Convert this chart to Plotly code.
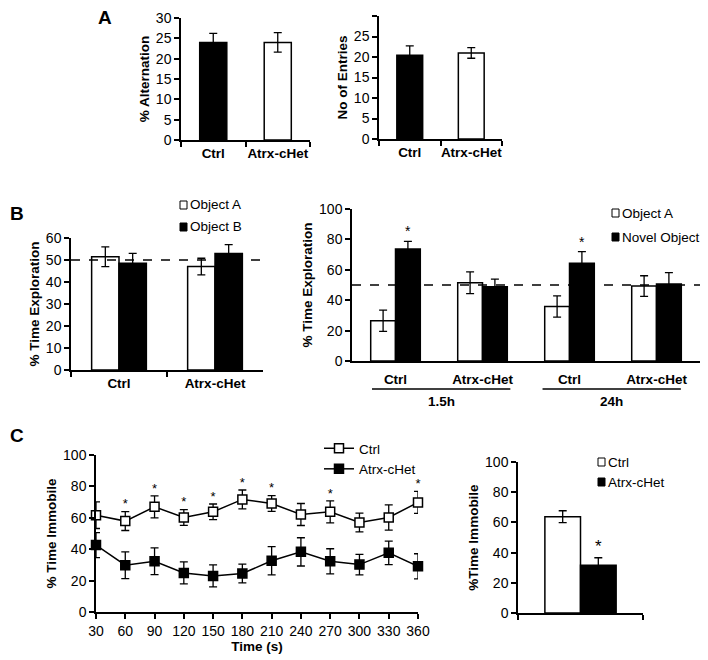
import plotly.graph_objects as go

# ---- data ----
GENOTYPES = ["Ctrl", "Atrx-cHet"]

# A: Y-maze
ALTERNATION = [24.0, 24.0]
ALTERNATION_SEM = [2.2, 2.4]
ENTRIES = [20.4, 21.0]
ENTRIES_SEM = [2.3, 1.3]

# B left: training (two identical objects)
TRAIN_OBJ_A = [51.5, 47.0]
TRAIN_OBJ_A_SEM = [4.5, 3.8]
TRAIN_OBJ_B = [48.5, 53.0]
TRAIN_OBJ_B_SEM = [4.5, 4.0]

# B right: novel object test at two delays
TEST_GENOTYPES = ["Ctrl", "Atrx-cHet", "Ctrl", "Atrx-cHet"]
TEST_DELAYS = ["1.5h", "24h"]
TEST_OBJ_A = [26.5, 51.5, 35.8, 49.3]
TEST_OBJ_A_SEM = [7.0, 7.2, 7.0, 6.8]
TEST_NOVEL = [73.7, 48.9, 64.3, 50.7]
TEST_NOVEL_SEM = [5.0, 5.0, 7.6, 7.5]
TEST_SIG = [True, False, True, False]

CHANCE = 50

# C: forced swim, immobility per 30 s bin
TIME_S = [30, 60, 90, 120, 150, 180, 210, 240, 270, 300, 330, 360]
CTRL_IMM = [61.7, 57.9, 67.0, 60.2, 63.8, 71.7, 69.1, 62.1, 63.8, 57.0, 60.2, 69.8]
CTRL_IMM_SEM = [8.5, 6.0, 7.0, 5.0, 5.0, 6.0, 5.0, 7.0, 7.0, 6.0, 8.0, 7.0]
HET_IMM = [42.6, 29.8, 32.3, 24.9, 23.0, 24.5, 32.6, 38.3, 32.3, 30.2, 37.7, 29.1]
HET_IMM_SEM = [8.0, 8.5, 8.5, 7.0, 7.0, 6.0, 9.0, 9.0, 8.0, 6.5, 7.5, 8.0]
TIME_SIG = [False, True, True, True, True, True, True, False, True, False, False, True]

TOTAL_IMM = [63.8, 31.7]
TOTAL_IMM_SEM = [3.9, 4.9]

# the page body has an 8px margin, so the figure is shrunk by that much
OFF = 8
FW, FH = 708 - OFF, 660 - OFF
FONT = "Liberation Sans, Arial, sans-serif"
BAR_GAP = 0.43
TICK_SIZE = 14
LEG_SIZE = 13.5


def X(px):
    return (px - OFF) / FW


def Y(py):
    return 1 - (py - OFF) / FH


def px_x(a, b):
    return [X(a), X(b)]


def px_y(bottom, top):
    return [Y(bottom), Y(top)]


def err(vals):
    return dict(type="data", array=vals, color="black", thickness=1.3, width=4)


def yax(domain, rng, dtick, title, anchor):
    return dict(domain=domain, range=rng, dtick=dtick, anchor=anchor,
                showline=True, linecolor="black", linewidth=1.5,
                ticks="outside", ticklen=5, tickcolor="black", tickwidth=1.5,
                tickfont=dict(size=TICK_SIZE),
                showgrid=False, zeroline=False, automargin=False,
                title=dict(text=title, font=dict(size=13.5, weight="bold"), standoff=3))


def xax(domain, anchor, **kw):
    d = dict(domain=domain, anchor=anchor, showline=True, linecolor="black",
             linewidth=1.5, showgrid=False, zeroline=False, automargin=False,
             tickcolor="black", tickwidth=1.5, ticklen=5, tickangle=0,
             tickfont=dict(size=13.5, weight="bold"))
    d.update(kw)
    return d


fig = go.Figure()

# A
fig.add_trace(go.Bar(x=GENOTYPES, y=ALTERNATION, error_y=err(ALTERNATION_SEM),
                     marker=dict(color=["black", "white"], line=dict(color="black", width=1.5)),
                     width=0.42, showlegend=False, xaxis="x", yaxis="y"))
fig.add_trace(go.Bar(x=GENOTYPES, y=ENTRIES, error_y=err(ENTRIES_SEM),
                     marker=dict(color=["black", "white"], line=dict(color="black", width=1.5)),
                     width=0.42, showlegend=False, xaxis="x2", yaxis="y2"))

# B left
fig.add_trace(go.Bar(x=GENOTYPES, y=TRAIN_OBJ_A, error_y=err(TRAIN_OBJ_A_SEM), name="Object A",
                     marker=dict(color="white", line=dict(color="black", width=1.5)),
                     showlegend=False, xaxis="x3", yaxis="y3"))
fig.add_trace(go.Bar(x=GENOTYPES, y=TRAIN_OBJ_B, error_y=err(TRAIN_OBJ_B_SEM), name="Object B",
                     marker=dict(color="black", line=dict(color="black", width=1.5)),
                     showlegend=False, xaxis="x3", yaxis="y3"))

# B right
test_x = list(range(len(TEST_GENOTYPES)))
fig.add_trace(go.Bar(x=test_x, y=TEST_OBJ_A, error_y=err(TEST_OBJ_A_SEM), name="Object A",
                     marker=dict(color="white", line=dict(color="black", width=1.5)),
                     showlegend=False, xaxis="x4", yaxis="y4"))
fig.add_trace(go.Bar(x=test_x, y=TEST_NOVEL, error_y=err(TEST_NOVEL_SEM), name="Novel Object",
                     marker=dict(color="black", line=dict(color="black", width=1.5)),
                     showlegend=False, xaxis="x4", yaxis="y4"))

# C left
fig.add_trace(go.Scatter(x=TIME_S, y=CTRL_IMM, error_y=err(CTRL_IMM_SEM), name="Ctrl",
                         mode="lines+markers", line=dict(color="black", width=1.5),
                         marker=dict(symbol="square", size=9, color="white",
                                     line=dict(color="black", width=1.5)),
                         cliponaxis=False, xaxis="x5", yaxis="y5", legendgroup="e"))
fig.add_trace(go.Scatter(x=TIME_S, y=HET_IMM, error_y=err(HET_IMM_SEM), name="Atrx-cHet",
                         mode="lines+markers", line=dict(color="black", width=1.5),
                         marker=dict(symbol="square", size=9, color="black",
                                     line=dict(color="black", width=1.5)),
                         cliponaxis=False, xaxis="x5", yaxis="y5", legendgroup="f"))
sig_t = [t for t, s in zip(TIME_S, TIME_SIG) if s]
sig_y = [m + e for m, e, s in zip(CTRL_IMM, CTRL_IMM_SEM, TIME_SIG) if s]
fig.add_trace(go.Scatter(x=sig_t, y=sig_y, mode="text", text=["*"] * len(sig_t),
                         textposition="top center", textfont=dict(size=13, color="black"),
                         cliponaxis=False, showlegend=False, xaxis="x5", yaxis="y5"))

# C right
fig.add_trace(go.Bar(x=["FST"], y=TOTAL_IMM[:1], error_y=err(TOTAL_IMM_SEM[:1]), name="Ctrl",
                     marker=dict(color="white", line=dict(color="black", width=1.5)),
                     showlegend=False, xaxis="x6", yaxis="y6"))
fig.add_trace(go.Bar(x=["FST"], y=TOTAL_IMM[1:], error_y=err(TOTAL_IMM_SEM[1:]), name="Atrx-cHet",
                     marker=dict(color="black", line=dict(color="black", width=1.5)),
                     showlegend=False, xaxis="x6", yaxis="y6"))

annotations = []
shapes = []

# stars on the novel object bars (right bar of each pair)
half = (1 - BAR_GAP) / 4
for i, s in enumerate(TEST_SIG):
    if s:
        annotations.append(dict(x=i + half, y=TEST_NOVEL[i] + TEST_NOVEL_SEM[i], xref="x4", yref="y4",
                                text="*", showarrow=False, xanchor="center", yanchor="bottom",
                                font=dict(size=14, color="black")))
annotations.append(dict(x=half, y=TOTAL_IMM[1] + TOTAL_IMM_SEM[1], xref="x6", yref="y6",
                        text="*", showarrow=False, xanchor="center", yanchor="bottom",
                        font=dict(size=17, color="black")))

# delay group labels + underlines
for lab, x0, x1 in zip(TEST_DELAYS, [-0.27, 1.69], [1.32, 3.28]):
    shapes.append(dict(type="line", xref="x4", yref="paper", x0=x0, x1=x1,
                       y0=Y(389), y1=Y(389), line=dict(color="black", width=1.3)))
    annotations.append(dict(x=(x0 + x1) / 2, y=Y(402), xref="x4", yref="paper", text=lab,
                            showarrow=False, xanchor="center", yanchor="middle",
                            font=dict(size=13.5, weight="bold")))

# chance lines
for ax, yref in [("x3", "y3"), ("x4", "y4")]:
    shapes.append(dict(type="line", xref=ax + " domain", yref=yref, x0=0, x1=1,
                       y0=CHANCE, y1=CHANCE, line=dict(color="black", width=1.5, dash="dash")))

# panel letters
for lab, x, y in [("A", 105, 17), ("B", 17, 213), ("C", 17, 435)]:
    annotations.append(dict(x=X(x), y=Y(y), xref="paper", yref="paper", text=lab,
                            showarrow=False, xanchor="center", yanchor="middle",
                            font=dict(size=19, weight="bold")))


# Excel-style legend keys for the bar panels (small square right next to the text)
def bar_key(x_px, y_px, fill, label):
    shapes.append(dict(type="rect", xref="paper", yref="paper",
                       x0=X(x_px), x1=X(x_px + 7),
                       y0=Y(y_px + 4), y1=Y(y_px - 4),
                       fillcolor=fill, line=dict(color="black", width=1)))
    annotations.append(dict(x=X(x_px + 8), y=Y(y_px), xref="paper", yref="paper",
                            text=label, showarrow=False, xanchor="left", yanchor="middle",
                            font=dict(size=LEG_SIZE)))


bar_key(180, 205, "white", "Object A")
bar_key(180, 227, "black", "Object B")
bar_key(612, 213, "white", "Object A")
bar_key(612, 237, "black", "Novel Object")
bar_key(598, 462, "white", "Ctrl")
bar_key(598, 482, "black", "Atrx-cHet")

fig.update_layout(
    width=FW, height=FH, margin=dict(l=0, r=0, t=0, b=0),
    paper_bgcolor="white", plot_bgcolor="white",
    font=dict(family=FONT, size=13, color="black"),
    barmode="group", bargap=BAR_GAP, bargroupgap=0,
    xaxis=xax(px_x(181, 310), "y", type="category", tickson="boundaries", ticks="outside"),
    yaxis=yax(px_y(140, 18), [0, 30], 5, "% Alternation", "x"),
    xaxis2=xax(px_x(379, 502), "y2", type="category", tickson="boundaries", ticks="outside"),
    yaxis2=yax(px_y(139, 16), [0, 30], 5, "No of Entries", "x2"),
    xaxis3=xax(px_x(71, 263), "y3", type="category", tickson="boundaries", ticks="outside"),
    yaxis3=yax(px_y(370, 238), [0, 60], 10, "% Time Exploration", "x3"),
    xaxis4=xax(px_x(352, 700), "y4", range=[-0.5, 3.5], tickvals=test_x,
               ticktext=TEST_GENOTYPES, ticks="", ticklabelstandoff=5),
    yaxis4=yax(px_y(361, 209), [0, 100], 20, "% Time Exploration", "x4"),
    xaxis5=xax(px_x(96, 418), "y5", range=[30, 360], dtick=30, ticks="outside",
               tickfont=dict(size=TICK_SIZE),
               title=dict(text="Time (s)", font=dict(size=13.5, weight="bold"), standoff=0)),
    yaxis5=yax(px_y(612, 455), [0, 100], 20, "% Time Immobile", "x5"),
    xaxis6=xax(px_x(518, 643), "y6", type="category", tickson="boundaries", ticks="outside",
               showticklabels=False),
    yaxis6=yax(px_y(613, 462), [0, 100], 20, "%Time Immobile", "x6"),
    showlegend=True,
    legend=dict(x=X(319), y=Y(433), xanchor="left", yanchor="top",
                bgcolor="rgba(0,0,0,0)", font=dict(size=LEG_SIZE), traceorder="grouped",
                tracegroupgap=0, itemwidth=30),
    annotations=annotations, shapes=shapes,
)

fig.write_html("out.html")
